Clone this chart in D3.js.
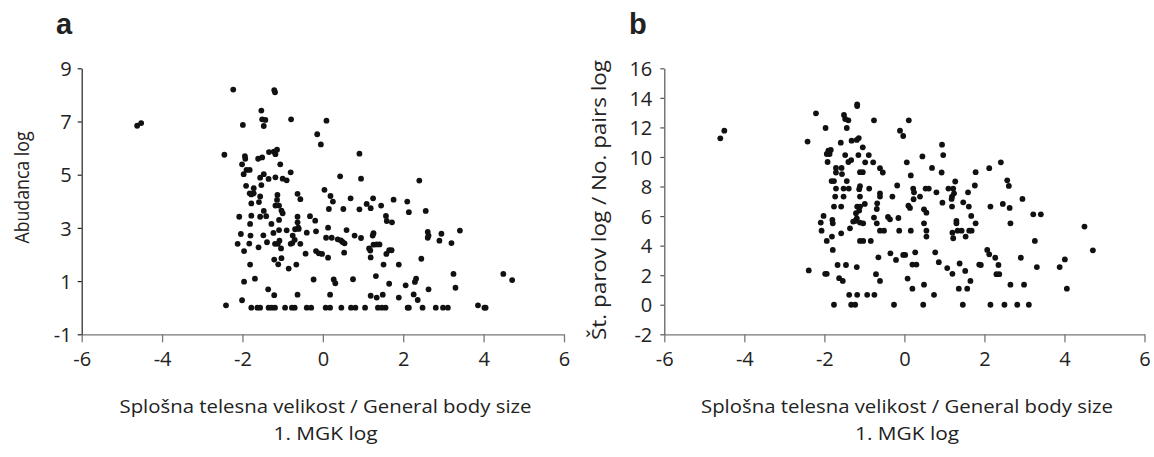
<!DOCTYPE html>
<html><head><meta charset="utf-8">
<script src="https://cdn.jsdelivr.net/npm/d3@7"></script>
<style>
body{margin:0;background:#fff;}
svg{display:block;}
text{font-family:"Open Sans","Liberation Sans",sans-serif;fill:#222;}
</style></head>
<body><svg id="c" width="1154" height="457"></svg>
<script>
// ---- Data ----
const xTicks = [-6,-4,-2,0,2,4,6];
const aYTicks = [-1,1,3,5,7,9];
const bYTicks = [-2,0,2,4,6,8,10,12,14,16];
const xTitle = ["Splošna telesna velikost / General body size","1. MGK log"];
const aYTitle = "Abudanca log";
const bYTitle = "Št. parov log / No. pairs log";

// Panel a: x = general body size (1. MGK log), y = abundance log
const aX = [-4.62,-4.52,-2.23,-1.21,-1.19,-1.53,-1.51,-1.43,-1.47,-1.99,-0.79,0.09,-0.14,-0.05,-2.45,0.91,-1.94,-1.93,-2.01,-1.97,
 -1.90,-1.82,-1.61,-1.51,-1.34,-1.22,-1.14,-1.18,-1.06,-0.80,-1.47,-1.35,-1.56,-1.18,-1.00,-0.90,-1.91,-1.72,-1.82,-1.72,
 -1.78,-1.53,-1.56,-1.59,-1.13,-1.14,-1.18,-1.09,-0.63,-0.56,-1.78,-1.47,-1.56,-1.41,-1.03,-1.00,-1.09,-2.08,-1.78,-1.81,
 -1.28,-0.63,-0.63,-0.61,-0.60,-0.69,-0.32,-0.19,-2.04,-1.80,-1.48,-1.23,-1.09,-0.90,-0.75,-0.70,-0.76,-0.80,-2.12,-1.83,
 -1.96,-1.60,-1.39,-1.19,-1.08,-1.04,-1.12,-0.56,-0.40,-0.17,-0.43,-0.17,-0.10,-0.02,0.13,0.08,0.22,0.13,0.37,0.45,
 0.49,0.54,0.53,0.59,0.79,0.95,0.04,0.19,0.25,0.15,0.43,0.95,0.51,0.69,0.91,1.09,1.19,1.25,1.45,1.76,
 1.57,1.59,1.72,1.26,1.24,1.15,1.18,1.26,1.34,1.41,1.19,1.58,1.65,1.71,1.51,1.89,-1.81,-1.03,-1.21,-1.11,
 -0.85,-0.66,-1.96,-1.69,-0.23,0.27,0.31,0.75,1.32,1.65,-1.36,-1.21,-0.63,0.18,1.19,1.34,1.49,1.89,-2.41,-2.01,
 -1.78,-1.63,-1.56,-1.35,-1.27,-1.19,-0.94,-0.77,-0.70,-0.40,-0.29,0.07,0.18,0.46,0.70,0.81,1.05,1.37,1.47,1.56,
 2.40,2.10,2.14,2.56,2.61,2.61,2.63,2.95,2.90,3.20,3.41,2.45,3.25,3.30,4.49,4.71,2.32,2.29,2.06,2.63,2.26,2.36,
 2.11,2.14,2.48,2.81,2.99,3.11,3.86,4.02,4.05];
const aY = [6.84,6.94,8.20,8.18,8.10,7.41,7.08,7.06,6.83,6.87,7.08,7.03,6.52,6.14,5.75,5.79,5.70,5.60,5.39,5.02,
 5.18,5.18,5.60,5.65,5.85,5.87,5.94,5.77,5.39,5.09,5.02,4.84,4.89,4.90,4.85,4.79,4.58,4.49,4.30,4.30,
 4.26,4.61,4.18,3.97,4.24,4.05,3.84,3.84,4.28,4.08,3.92,3.64,3.42,3.44,3.65,3.55,3.30,3.42,3.46,3.15,
 3.15,3.42,3.21,3.01,2.96,2.95,3.44,3.27,2.77,2.71,2.72,2.81,2.92,2.91,2.71,2.55,2.43,2.40,2.40,2.41,
 2.13,2.27,2.46,2.40,2.52,2.23,2.40,2.40,2.82,2.87,2.03,2.13,2.04,2.02,3.01,2.63,2.63,1.88,2.57,2.53,
 2.47,2.42,2.07,2.92,2.71,2.62,4.43,4.20,3.99,3.71,4.94,4.85,3.71,4.11,3.70,3.90,3.74,4.11,3.84,4.06,
 3.45,3.26,3.21,2.80,2.71,2.23,2.15,2.37,2.38,2.38,1.89,2.02,2.16,2.16,1.62,1.62,1.62,1.86,1.81,1.63,
 1.47,1.62,0.98,1.09,1.06,1.06,0.92,1.07,1.19,0.90,0.69,0.47,0.49,0.49,0.45,0.38,0.49,0.38,0.09,0.28,
 0,0,0,0,0,0,0,0,0,0,0,0,0,0,0,0,0,0,0,0,
 4.78,3.99,3.59,3.64,2.85,2.63,2.71,2.78,2.52,2.43,2.90,1.84,1.27,0.75,1.27,1.04,1.09,0.97,0.84,0.69,0.50,0.29,
 0,0,0,0,0,0,0.09,0,0];

// Panel b: x = general body size (1. MGK log), y = number of pairs log
const bX = [-4.60,-4.50,
 -1.18,-1.18,-2.21,-1.51,-1.48,-1.40,-0.76,0.11,-1.97,-1.44,-0.11,-0.03,-2.42,-1.59,-1.32,-1.19,-1.14,-1.04,
 -1.84,-1.90,-1.94,-1.87,-1.92,-1.48,-1.33,-1.40,-1.15,-0.89,-0.98,-0.78,-0.61,-0.54,0.06,0.45,0.94,0.97,0.69,0.93,
 0.16,-1.71,-1.57,-1.71,-1.56,-1.11,-1.04,-1.82,-1.76,-1.44,-1.71,-1.52,-1.39,-1.11,-1.13,-0.88,-1.73,-1.52,-1.11,-0.61,
 -0.61,-0.30,-0.18,0.22,0.24,0.39,0.23,0.53,0.61,0.80,1.10,1.22,1.24,1.27,1.59,1.76,1.78,1.19,1.18,0.95,
 -1.76,-1.58,-1.18,-1.11,-0.99,-1.13,-0.68,-0.69,0.10,0.14,0.49,0.55,1.19,1.47,1.61,-2.02,-2.09,-1.80,-1.79,-1.21,
 -1.19,-1.23,-1.11,-1.28,-1.03,-0.76,-0.69,-0.41,-0.36,-0.15,0.49,1.30,1.30,1.67,1.78,-1.36,-2.07,-1.81,-1.94,-1.58,
 -0.61,-0.51,-0.13,0.16,0.55,0.55,1.20,1.22,1.33,1.43,1.53,1.62,1.68,-1.11,-1.03,-0.84,-1.79,-0.35,-0.21,-0.03,
 0.02,0.27,0.77,-0.65,0.20,0.30,0.86,1.07,1.20,1.38,1.52,1.87,-2.39,-1.98,-1.94,-1.67,-1.46,-1.19,-1.63,-1.54,
 -0.71,-0.61,0.08,0.20,0.49,0.74,1.36,1.57,1.65,-1.38,-1.18,-0.93,-0.75,-1.76,-1.33,-1.23,-0.26,0.47,1.46,
 2.41,2.12,2.57,2.61,2.15,2.46,2.63,2.95,2.65,3.22,3.41,4.50,3.26,2.07,2.12,2.27,2.35,2.30,2.37,1.91,
 2.91,3.31,3.88,4.01,4.71,4.06,2.65,2.99,2.15,2.50,2.82,3.11];
const bY = [11.26,11.78,
 13.56,13.45,12.95,12.84,12.57,12.48,12.48,12.48,11.96,11.96,11.78,11.42,11.04,10.97,11.10,11.15,11.28,10.65,
 10.47,10.43,10.20,10.20,9.66,10.13,9.79,9.66,10.13,10.13,9.64,9.64,9.24,8.95,9.64,10.04,10.83,10.13,9.26,8.95,
 8.75,9.26,9.26,8.95,8.84,8.97,8.97,8.37,8.37,8.37,7.86,7.86,7.86,8.02,7.82,7.86,7.32,7.32,7.32,7.54,
 7.32,7.32,8.07,7.86,7.61,7.32,7.14,7.86,7.86,7.61,7.86,7.86,7.54,8.34,7.61,8.07,8.97,7.32,7.16,6.91,
 6.64,6.64,6.64,6.64,6.82,6.37,6.86,6.48,6.70,6.55,6.46,6.23,6.64,6.93,6.64,6.01,5.56,5.74,5.51,6.19,
 5.85,5.67,5.56,5.63,5.51,5.90,5.51,5.94,5.78,5.87,5.51,5.67,5.51,6.01,5.51,5.17,5.01,4.61,4.32,4.83,
 5.01,5.01,5.01,5.01,5.01,4.61,4.88,4.50,5.01,5.01,4.61,5.01,5.01,4.32,4.32,4.32,3.71,3.48,3.03,3.37,
 3.37,3.55,3.55,3.21,2.72,2.72,2.88,2.48,2.09,2.79,2.29,2.72,2.32,2.09,2.09,2.69,2.69,2.55,1.80,1.61,
 2.07,1.61,1.77,1.09,1.36,0.67,1.09,1.09,1.61,0.67,0.67,0.67,0.67,0,0,0,0,0,0,
 9.64,9.24,8.42,8.04,6.64,6.82,6.55,7.16,5.51,6.12,6.12,5.29,4.32,3.71,3.41,3.18,2.69,2.07,2.07,2.69,
 3.18,2.55,2.55,3.07,3.68,1.09,1.36,1.36,0,0,0,0];

// ---- Drawing ----
const svg = d3.select("#c");
const FS = 20;

function panel(opts){
  const g = svg.append("g");
  const x = d3.scaleLinear().domain([-6,6]).range(opts.xr);
  const y = d3.scaleLinear().domain(opts.yd).range([334.3,68.3]);

  // x axis
  const xa = g.append("g").attr("transform","translate(0,"+y(opts.yd[0])+")")
    .call(d3.axisBottom(x).tickValues(xTicks).tickSizeInner(8).tickSizeOuter(0).tickFormat(d3.format("d")));
  xa.select(".domain").attr("stroke","#777").attr("stroke-width",1.3);
  xa.selectAll(".tick line").attr("stroke","#777").attr("stroke-width",1.3);
  xa.selectAll(".tick text").attr("y",32).attr("dy",0).attr("font-size",FS)
    .text(d=>d<0?"-"+Math.abs(d):d);

  // y axis
  const ya = g.append("g").attr("transform","translate("+x(-6)+",0)")
    .call(d3.axisLeft(y).tickValues(opts.yt).tickSizeInner(4).tickSizeOuter(0));
  ya.select(".domain").attr("stroke",opts.yc).attr("stroke-width",1.2);
  ya.selectAll(".tick line").attr("stroke",opts.yc).attr("stroke-width",1.2);
  ya.selectAll(".tick text").attr("x",-opts.yoff).attr("dy","0.36em").attr("font-size",FS)
    .text(d=>d<0?"-"+Math.abs(d):d);
  g.selectAll(".tick text").attr("fill","#222").style("font-family",'"Open Sans","Liberation Sans",sans-serif');

  // points
  g.append("g").selectAll("circle").data(opts.xs.map((v,i)=>[v,opts.ys[i]])).join("circle")
    .attr("cx",d=>x(d[0])).attr("cy",d=>y(d[1])).attr("r",2.9).attr("fill","#111");

  // titles
  const cx = opts.tcx;
  g.append("text").attr("x",cx).attr("y",413).attr("text-anchor","middle").attr("font-size",18.5)
    .attr("textLength",412).attr("lengthAdjust","spacingAndGlyphs").text(xTitle[0]);
  g.append("text").attr("x",cx).attr("y",440).attr("text-anchor","middle").attr("font-size",18.5)
    .attr("textLength",104).attr("lengthAdjust","spacingAndGlyphs").text(xTitle[1]);
  g.append("text").attr("transform","translate("+opts.ylx+","+opts.ylc+") rotate(-90)")
    .attr("text-anchor","middle").attr("font-size",FS)
    .attr("textLength",opts.yll).attr("lengthAdjust","spacingAndGlyphs").text(opts.ytitle);
  g.append("text").attr("x",opts.lx).attr("y",34).attr("font-size",29).attr("font-weight","bold")
    .style("font-family",'"Liberation Sans",Arial,sans-serif').attr("fill","#000").text(opts.label);
}

panel({xr:[81.7,564], yd:[-1,9], yt:aYTicks, xs:aX, ys:aY, yc:"#222", yoff:10,
  tcx:325.5, ylx:29, ylc:187.5, yll:112, ytitle:aYTitle, lx:56, label:"a"});
panel({xr:[664.3,1144.5], yd:[-2,16], yt:bYTicks, xs:bX, ys:bY, yc:"#555", yoff:12,
  tcx:907, ylx:606, ylc:200, yll:280, ytitle:bYTitle, lx:629, label:"b"});
</script></body></html>
